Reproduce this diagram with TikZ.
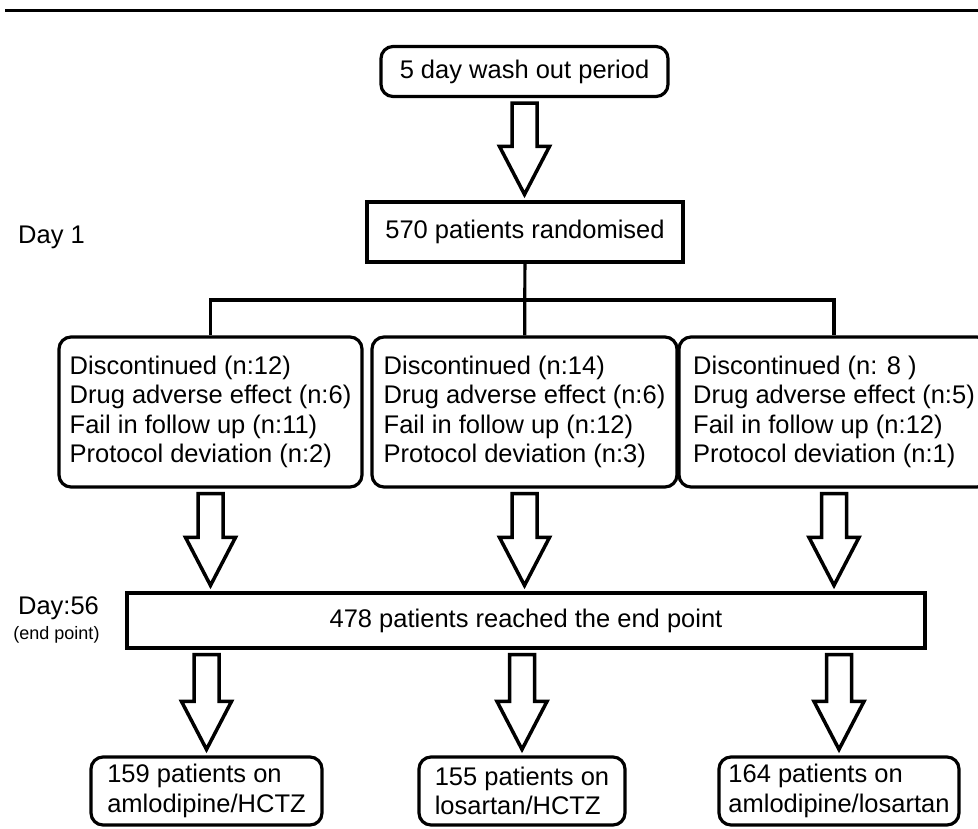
\documentclass[tikz,border=0pt]{standalone}
\usepackage{fontspec}
\setmainfont{Liberation Sans}
\usetikzlibrary{calc}

% hollow block arrow, drawn at the x of the first anchor
\newcommand{\hollowarrow}[2]{%
  \draw[blockline] let \p1=(#1), \p2=(#2) in
    (\x1-12.5pt,\y1-5pt) -- (\x1+12.5pt,\y1-5pt) -- (\x1+12.5pt,\y2+54pt) -- (\x1+25pt,\y2+54pt)
    -- (\x1,\y2+6pt) -- (\x1-25pt,\y2+54pt) -- (\x1-12.5pt,\y2+54pt) -- cycle;}

\begin{document}
\begin{tikzpicture}[x=1pt, y=-1pt, font=\fontsize{25.5}{29.5}\selectfont,
	roundbox/.style={draw, rounded corners=12pt, line width=3.2pt, inner sep=0pt, align=left},
	squarebox/.style={draw, line width=3.2pt, inner sep=0pt},
	treeline/.style={line width=3.2pt},
	blockline/.style={line width=3.5pt, line join=miter}]
	\useasboundingbox (0,0) rectangle (978,828);
	\draw[line width=3pt] (5,10) -- (978,10);

	\node[roundbox, minimum width=287pt, minimum height=50pt] (wash) at (524.5, 71.5) {5 day wash out period};
	\node[squarebox, minimum width=316pt, minimum height=60pt] (rand) at (525, 232) {570 patients randomised};
	\node (day1) at (51.5, 237) {Day 1};

	\node[roundbox, minimum width=303pt, minimum height=150pt] (drop1) at (210.5, 412)
		{Discontinued (n:12)\\Drug adverse effect (n:6)\\Fail in follow up (n:11)\\Protocol deviation (n:2)};
	\node[roundbox, minimum width=305pt, minimum height=150pt] (drop2) at (524.5, 412)
		{Discontinued (n:14)\\Drug adverse effect (n:6)\\Fail in follow up (n:12)\\Protocol deviation (n:3)};
	\node[roundbox, minimum width=310pt, minimum height=150pt] (drop3) at (834, 412)
		{Discontinued (n: 8 )\\Drug adverse effect (n:5)\\Fail in follow up (n:12)\\Protocol deviation (n:1)};

	\node[squarebox, minimum width=798pt, minimum height=55pt] (endp) at (526, 620.5) {478 patients reached the end point};
	\node (day56) at (58.5, 608) {Day:56};
	\node[font=\fontsize{18}{20}\selectfont] (endlbl) at (56.5, 635) {(end point)};

	\node[roundbox, minimum width=231pt, minimum height=68pt] (arm1) at (206.5, 791) {159 patients on\\amlodipine/HCTZ};
	\node[roundbox, minimum width=206pt, minimum height=68pt] (arm2) at (522, 791) {155 patients on\\losartan/HCTZ};
	\node[roundbox, minimum width=240pt, minimum height=68pt] (arm3) at (839, 791) {164 patients on\\amlodipine/losartan};

	\coordinate (split) at (525, 300);
	\draw[treeline] (rand) -- (drop2);
	\draw[treeline] (drop1.north) |- (split) -| (drop3.north);

	\hollowarrow{wash.south}{rand.north}
	\foreach \i in {1,2,3}{
		\hollowarrow{drop\i.south}{drop\i.south |- endp.north}
		\hollowarrow{arm\i.north |- endp.south}{arm\i.north}
	}
\end{tikzpicture}
\end{document}
